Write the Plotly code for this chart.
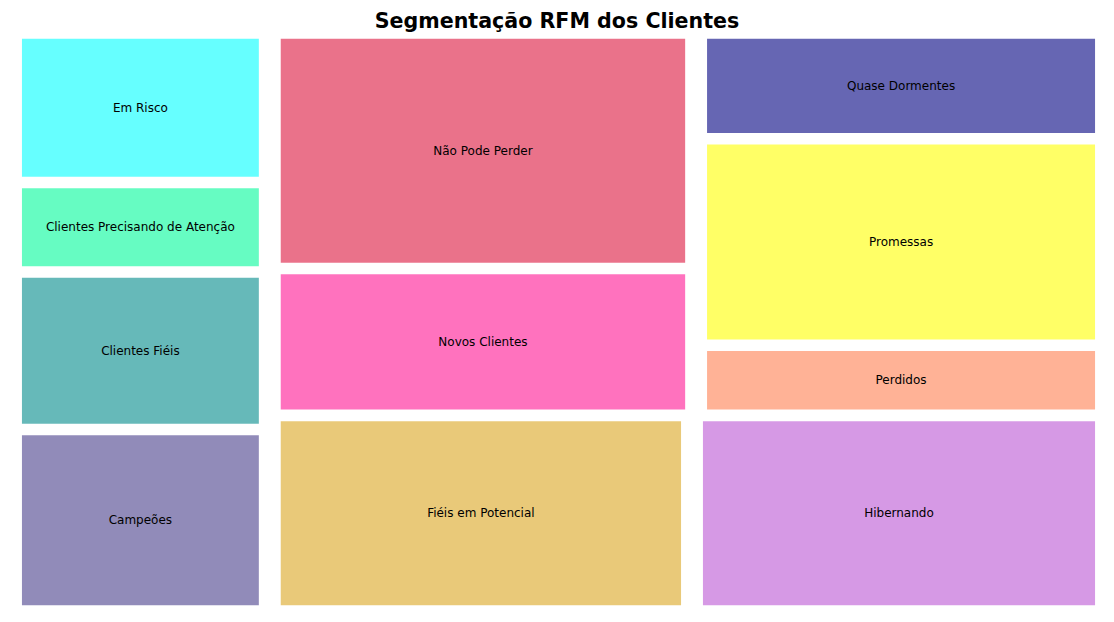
import plotly.graph_objects as go

# Data (alphabetical, as in the source)
segments = ["Campeões", "Clientes Fiéis", "Clientes Precisando de Atenção", "Em Risco",
            "Fiéis em Potencial", "Hibernando", "Novos Clientes", "Não Pode Perder",
            "Perdidos", "Promessas", "Quase Dormentes"]
counts = [322, 279, 159, 265, 566, 555, 429, 688, 197, 580, 297]
colors = ["#483d8b", "#008b8b", "#00fa9a", "#00ffff", "#daa520", "#ba55d3",
          "#ff1493", "#dc143c", "#ff7f50", "#ffff00", "#000080"]
ALPHA = 0.6


# --- squarify algorithm ---
def layoutrow(sizes, x, y, dx, dy):
    width = sum(sizes) / dy
    rects = []
    for s in sizes:
        rects.append({"x": x, "y": y, "dx": width, "dy": s / width})
        y += s / width
    return rects


def layoutcol(sizes, x, y, dx, dy):
    height = sum(sizes) / dx
    rects = []
    for s in sizes:
        rects.append({"x": x, "y": y, "dx": s / height, "dy": height})
        x += s / height
    return rects


def layout(sizes, x, y, dx, dy):
    return layoutrow(sizes, x, y, dx, dy) if dx >= dy else layoutcol(sizes, x, y, dx, dy)


def leftover(sizes, x, y, dx, dy):
    if dx >= dy:
        w = sum(sizes) / dy
        return x + w, y, dx - w, dy
    h = sum(sizes) / dx
    return x, y + h, dx, dy - h


def worst_ratio(sizes, x, y, dx, dy):
    return max(max(r["dx"] / r["dy"], r["dy"] / r["dx"]) for r in layout(sizes, x, y, dx, dy))


def squarify(sizes, x, y, dx, dy):
    if not sizes:
        return []
    if len(sizes) == 1:
        return layout(sizes, x, y, dx, dy)
    i = 1
    while i < len(sizes) and worst_ratio(sizes[:i], x, y, dx, dy) >= worst_ratio(sizes[:i + 1], x, y, dx, dy):
        i += 1
    cur, rem = sizes[:i], sizes[i:]
    lx, ly, ldx, ldy = leftover(cur, x, y, dx, dy)
    return layout(cur, x, y, dx, dy) + squarify(rem, lx, ly, ldx, ldy)


def padded(rects):
    for r in rects:
        if r["dx"] > 2:
            r["x"] += 1
            r["dx"] -= 2
        if r["dy"] > 2:
            r["y"] += 1
            r["dy"] -= 2
    return rects


NX, NY = 100.0, 100.0
total = sum(counts)
sizes = [c * NX * NY / total for c in counts]
rects = padded(squarify(sizes, 0.0, 0.0, NX, NY))


def rgba(hexc, a):
    h = hexc.lstrip("#")
    r, g, b = int(h[0:2], 16), int(h[2:4], 16), int(h[4:6], 16)
    return f"rgba({r},{g},{b},{a})"


fig = go.Figure()
for seg, col, r in zip(segments, colors, rects):
    x0, y0, x1, y1 = r["x"], r["y"], r["x"] + r["dx"], r["y"] + r["dy"]
    fig.add_trace(go.Scatter(
        x=[x0, x1, x1, x0, x0], y=[y0, y0, y1, y1, y0],
        mode="lines", fill="toself", fillcolor=rgba(col, ALPHA),
        line=dict(width=0), hoverinfo="text", hovertext=f"{seg}",
        showlegend=False))

fig.add_trace(go.Scatter(
    x=[r["x"] + r["dx"] / 2 for r in rects],
    y=[r["y"] + r["dy"] / 2 - 0.2 for r in rects],
    mode="text", text=segments,
    textfont=dict(family="DejaVu Sans", size=12, color="black"),
    hoverinfo="skip", showlegend=False))

fig.update_layout(
    width=1114, height=622,
    margin=dict(l=11, r=8, t=33, b=11),
    paper_bgcolor="white", plot_bgcolor="white",
    title=dict(text="<b>Segmentação RFM dos Clientes</b>", x=0.5, xanchor="center",
               y=0.966, yanchor="middle",
               font=dict(family="DejaVu Sans", size=20.6, color="black")),
    xaxis=dict(range=[0, 100], visible=False, fixedrange=True),
    yaxis=dict(range=[0, 100], visible=False, fixedrange=True),
)

fig.write_html("out.html")
